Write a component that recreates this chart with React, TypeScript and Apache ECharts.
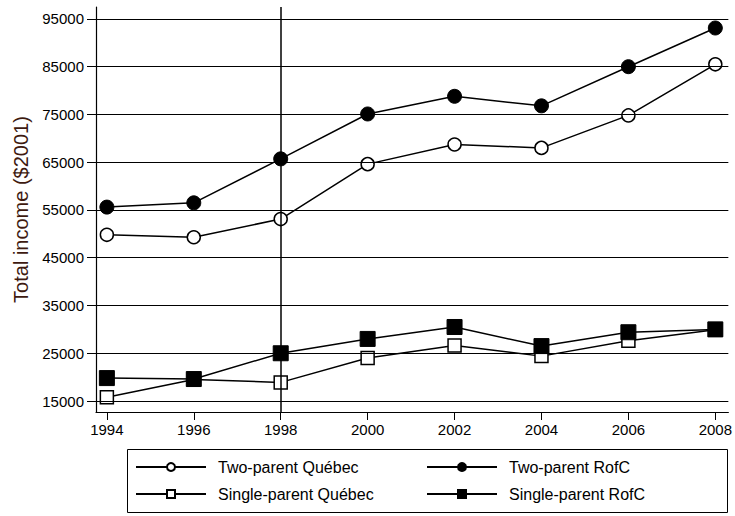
import React, { useEffect, useRef } from "react";
import * as echarts from "echarts";

const years = [1994, 1996, 1998, 2000, 2002, 2004, 2006, 2008];
const twoParentQuebec = [49800, 49300, 53100, 64600, 68700, 68000, 74800, 85500];
const twoParentRofC = [55600, 56500, 65700, 75100, 78800, 76800, 85000, 93100];
const singleParentQuebec = [15800, 19500, 18900, 24000, 26600, 24400, 27600, 29900];
const singleParentRofC = [19800, 19600, 25000, 28000, 30500, 26500, 29400, 30000];
const yTicks = [15000, 25000, 35000, 45000, 55000, 65000, 75000, 85000, 95000];
const xTicks = [1994, 1996, 1998, 2000, 2002, 2004, 2006, 2008];
const policyYear = 1998;

const FONT = "'Liberation Sans', Arial, sans-serif";

export default function App() {
  const ref = useRef<HTMLDivElement>(null);
  useEffect(() => {
    if (!ref.current) return;
    const chart = echarts.init(ref.current, undefined, { renderer: "svg" });
    const mk = (vals: number[]) => years.map((y, i) => [y, vals[i]]);
    const base = {
      type: "line",
      lineStyle: { color: "#000", width: 1.5 },
      emphasis: { disabled: true },
      z: 3,
    };
    const legendCommon = {
      top: 459,
      orient: "vertical",
      padding: 0,
      itemWidth: 70,
      itemHeight: 10,
      itemGap: 11,
      textStyle: { fontSize: 16, color: "#000", fontFamily: FONT, padding: [0, 0, 0, 7] },
    };
    chart.setOption({
      animation: false,
      backgroundColor: "#fff",
      textStyle: { fontFamily: FONT },
      grid: { left: 96, right: 5, top: 7, bottom: 104, containLabel: false },
      xAxis: {
        type: "value",
        min: 1993.75,
        max: 2008.3,
        axisLine: { show: true, onZero: false, lineStyle: { color: "#000", width: 1.2 } },
        axisTick: { show: true, length: 8, customValues: xTicks, lineStyle: { color: "#000" } },
        axisLabel: {
          customValues: xTicks,
          color: "#000",
          fontSize: 15,
          fontFamily: FONT,
          margin: 10,
          formatter: (v: number) => String(v),
        },
        splitLine: { show: false },
      },
      yAxis: {
        type: "value",
        min: 12700,
        max: 97500,
        name: "Total income ($2001)",
        nameLocation: "middle",
        nameGap: 64,
        nameTextStyle: { color: "#3e1a10", fontSize: 20, fontFamily: FONT },
        axisLine: { show: true, lineStyle: { color: "#000", width: 1.2 } },
        axisTick: { show: true, length: 9, customValues: yTicks, lineStyle: { color: "#000" } },
        axisLabel: {
          customValues: yTicks,
          color: "#000",
          fontSize: 15,
          fontFamily: FONT,
          margin: 12,
          formatter: (v: number) => String(v),
        },
        splitLine: { show: false },
      },
      legend: [
        { ...legendCommon, left: 135, data: ["Two-parent Québec", "Single-parent Québec"] },
        { ...legendCommon, left: 426, data: ["Two-parent RofC", "Single-parent RofC"] },
      ],
      graphic: [
        {
          type: "rect",
          shape: { x: 127.5, y: 449.5, width: 600, height: 63 },
          style: { fill: "none", stroke: "#000", lineWidth: 1 },
        },
      ],
      series: [
        {
          ...base,
          name: "Gridlines",
          data: [],
          markLine: {
            silent: true,
            symbol: "none",
            label: { show: false },
            lineStyle: { color: "#000", width: 1, type: "solid" },
            data: [
              ...yTicks.map((v) => ({ yAxis: v })),
              { xAxis: policyYear, lineStyle: { width: 1.5 } },
            ],
          },
          z: 1,
        },
        {
          ...base,
          name: "Two-parent Québec",
          data: mk(twoParentQuebec),
          symbol: "circle",
          symbolSize: 13,
          itemStyle: { color: "#fff", borderColor: "#000", borderWidth: 1.5 },
        },
        {
          ...base,
          name: "Two-parent RofC",
          data: mk(twoParentRofC),
          symbol: "circle",
          symbolSize: 14,
          itemStyle: { color: "#000", borderColor: "#000", borderWidth: 1 },
        },
        {
          ...base,
          name: "Single-parent Québec",
          data: mk(singleParentQuebec),
          symbol: "rect",
          symbolSize: 13,
          itemStyle: { color: "#fff", borderColor: "#000", borderWidth: 1.5 },
        },
        {
          ...base,
          name: "Single-parent RofC",
          data: mk(singleParentRofC),
          symbol: "rect",
          symbolSize: 15,
          itemStyle: { color: "#000", borderColor: "#000", borderWidth: 1 },
        },
      ],
    });
    return () => chart.dispose();
  }, []);
  return <div ref={ref} style={{ width: 735, height: 516, position: "absolute", left: 0, top: 0 }} />;
}
